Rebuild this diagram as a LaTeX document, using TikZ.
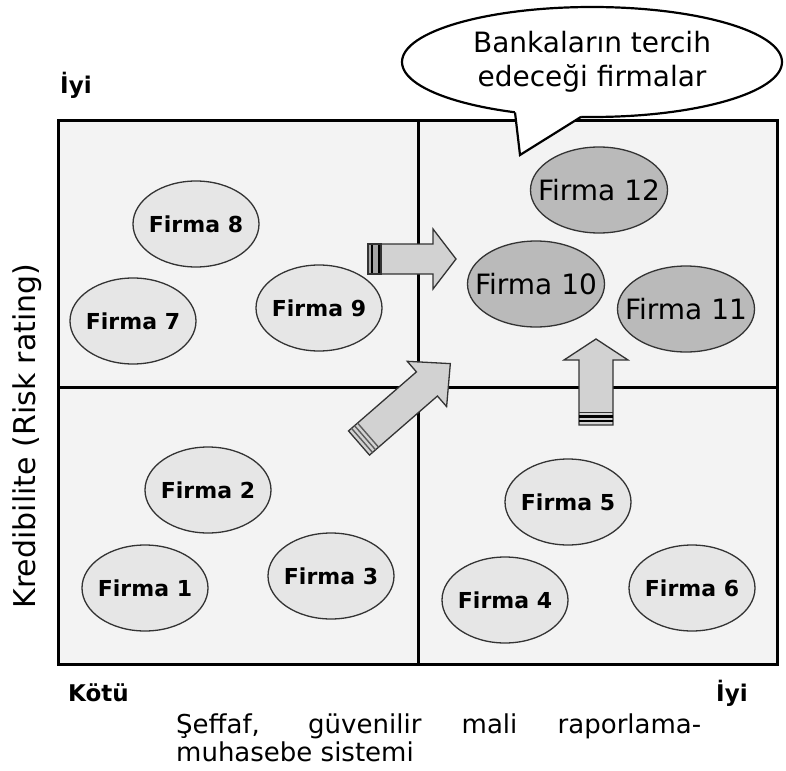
\documentclass[tikz,border=0pt]{standalone}
\usepackage{fontspec}
\setmainfont{DejaVu Sans}
\usetikzlibrary{shapes.geometric}
\definecolor{quadfill}{HTML}{F3F3F3}
\definecolor{firmfill}{HTML}{E6E6E6}
\definecolor{topfill}{HTML}{BABABA}
\definecolor{arrfill}{HTML}{D2D2D2}
\definecolor{edgegray}{HTML}{333333}
\newcommand\firmlabel[1]{\makebox[0pt]{#1}}
\begin{document}
\begin{tikzpicture}[x=1pt,y=-1pt,
  firm/.style={ellipse,draw=edgegray,line width=1.3pt,fill=firmfill,
    minimum width=126pt,minimum height=86pt,inner sep=0pt,
    font=\fontsize{22}{24}\selectfont\bfseries},
  topfirm/.style={firm,fill=topfill,minimum width=137pt,minimum height=86pt,
    font=\fontsize{28}{30}\selectfont},
  arrowbody/.style={draw=edgegray,line width=1.3pt,fill=arrfill,line join=miter},
  quadline/.style={line width=3pt,draw=black},
  bubbleline/.style={line width=2.2pt,draw=black},
  axistxt/.style={inner sep=0pt,font=\fontsize{26}{28}\selectfont},
  endtxt/.style={inner sep=0pt,font=\fontsize{23}{26}\selectfont\bfseries}]
\useasboundingbox (0,0) rectangle (786,770);
\fill[white] (0,0) rectangle (786,770);

% quadrant box
\coordinate (tl) at (58,121);
\coordinate (br) at (777,664);
\fill[quadfill] (tl) rectangle (br);
\coordinate (vt) at (418,121);
\coordinate (vb) at (418,664);
\coordinate (hl) at (58,387);
\coordinate (hr) at (777,387);
\draw[quadline] (vt) -- (vb);
\draw[quadline] (hl) -- (hr);
\draw[quadline] (tl) rectangle (br);

% firms
\node[firm] (f8) at (196,224) {\firmlabel{Firma 8}};
\node[firm] (f7) at (133,321) {\firmlabel{Firma 7}};
\node[firm] (f9) at (319,308) {\firmlabel{Firma 9}};
\node[firm] (f2) at (208,490) {\firmlabel{Firma 2}};
\node[firm] (f1) at (145,588) {\firmlabel{Firma 1}};
\node[firm] (f3) at (331,576) {\firmlabel{Firma 3}};
\node[firm] (f5) at (568,502) {\firmlabel{Firma 5}};
\node[firm] (f4) at (505,600) {\firmlabel{Firma 4}};
\node[firm] (f6) at (692,588) {\firmlabel{Firma 6}};
\node[topfirm] (f12) at (599,190) {\firmlabel{Firma 12}};
\node[topfirm] (f10) at (536,284) {\firmlabel{Firma 10}};
\node[topfirm] (f11) at (686,309) {\firmlabel{Firma 11}};

% block arrow: right
\begin{scope}[shift={(368,259)}]
  \draw[arrowbody] (0,-15) -- (65,-15) -- (65,-30) -- (88,0) -- (65,30) -- (65,15) -- (0,15) -- cycle;
  \fill[gray!70] (0.7,-14.3) rectangle (12,14.3);
  \draw[black,line width=2.4pt] (4,-15) -- (4,15);
  \draw[black,line width=2.4pt] (11,-15) -- (11,15);
  \draw[edgegray,line width=1.3pt] (0,-15) rectangle (13,15);
\end{scope}
% block arrow: diagonal
\begin{scope}[shift={(359,443)},rotate=41]
  \draw[arrowbody] (0,-16) -- (90,-16) -- (90,-30) -- (121,0) -- (90,30) -- (90,16) -- (0,16) -- cycle;
  \draw[edgegray!80,line width=1.4pt] (4,-16) -- (4,16);
  \draw[edgegray!80,line width=1.4pt] (8,-16) -- (8,16);
  \draw[edgegray!80,line width=1.4pt] (12,-16) -- (12,16);
\end{scope}
% block arrow: up
\begin{scope}[shift={(596,425)},rotate=90]
  \draw[arrowbody] (0,-17) -- (65,-17) -- (65,-32) -- (86,0) -- (65,32) -- (65,17) -- (0,17) -- cycle;
  \draw[black,line width=2.2pt] (4,-17) -- (4,17);
  \draw[black,line width=2.2pt] (8.5,-17) -- (8.5,17);
  \draw[edgegray,line width=1pt] (12.5,-17) -- (12.5,17);
\end{scope}

% speech bubble
\node[ellipse,bubbleline,fill=white,minimum width=380pt,minimum height=110pt,
  inner sep=0pt,align=center,font=\fontsize{28}{34}\selectfont] (bubble) at (592,62)
  {Bankaların tercih\\edeceği firmalar};
\coordinate (tailL) at (515,112.4);
\coordinate (tailT) at (520,155);
\coordinate (tailR) at (581,116.9);
\fill[white] (515,104) -- (tailL) -- (tailT) -- (tailR) -- (581,104) -- cycle;
\draw[bubbleline,line join=miter] (tailL) -- (tailT) -- (tailR);

% labels
\node[endtxt,anchor=base west] (iyiy) at (60,94) {İyi};
\node[endtxt,anchor=base west] (kotu) at (68,701) {Kötü};
\node[endtxt,anchor=base west] (iyix) at (716,701) {İyi};
\node[axistxt,anchor=base west] (xl1) at (176,733) {\makebox[525pt][s]{Şeffaf, güvenilir mali raporlama-}};
\node[axistxt,anchor=base west] (xl2) at (176,761) {muhasebe sistemi};
\node[inner sep=0pt,rotate=90,font=\fontsize{30}{34}\selectfont] (yl) at (27,436) {Kredibilite (Risk rating)};
\end{tikzpicture}
\end{document}
